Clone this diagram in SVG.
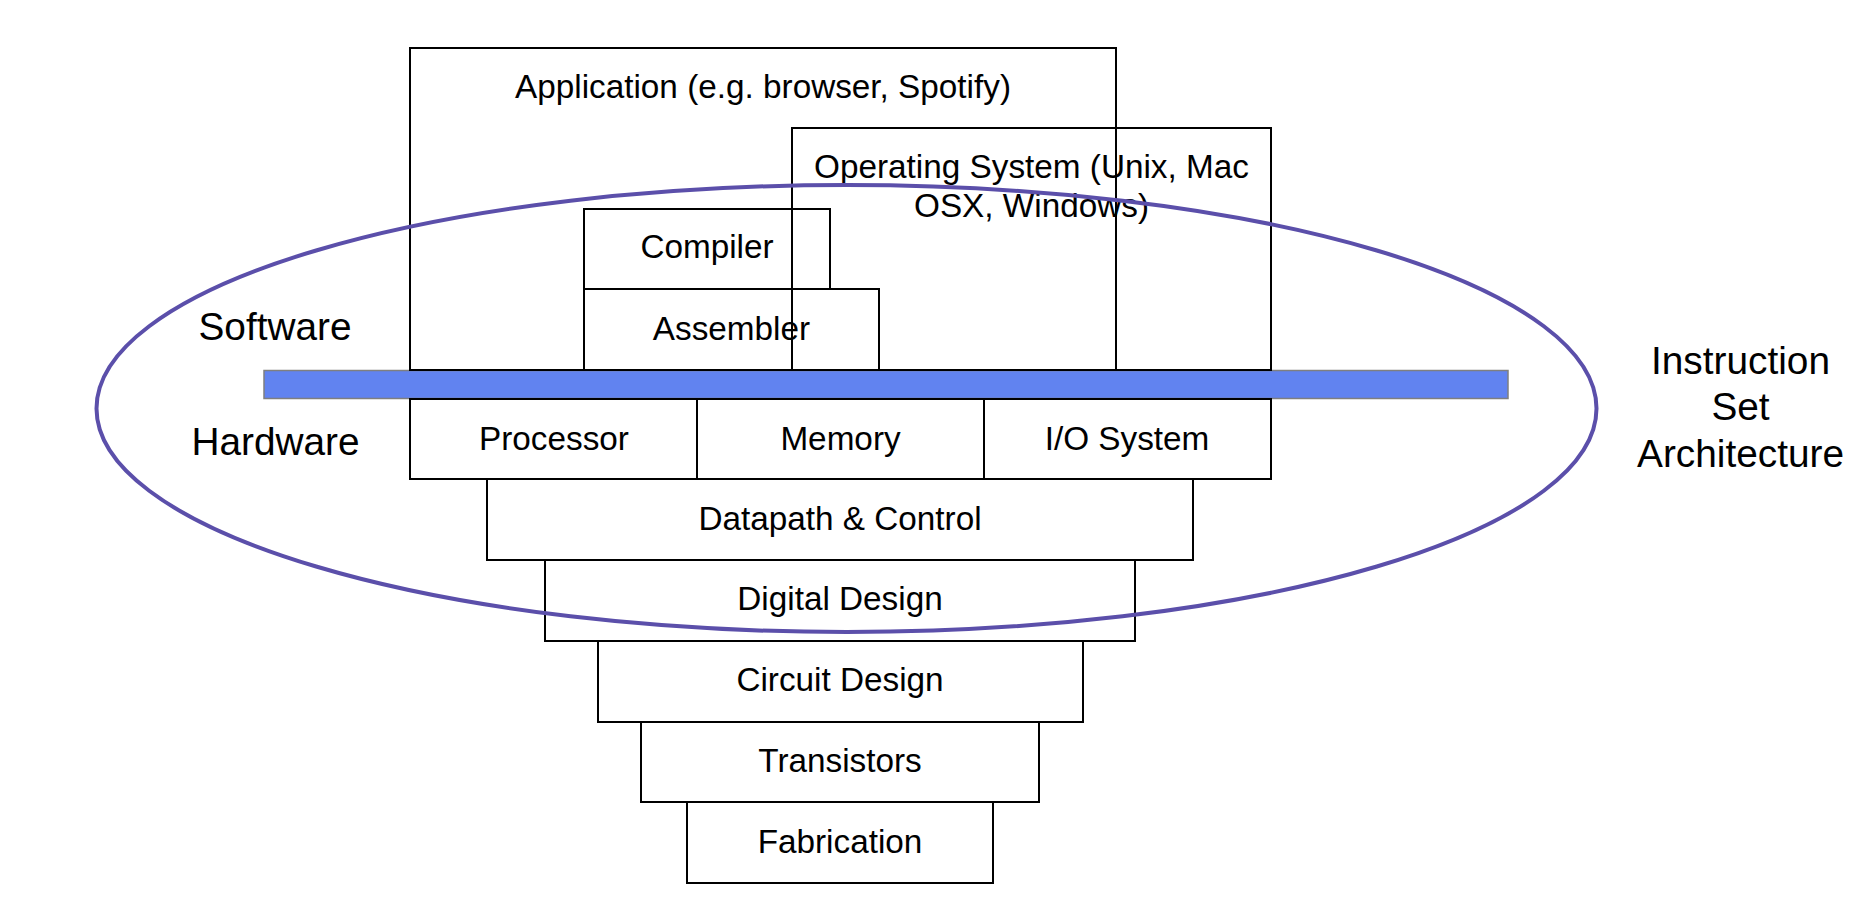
<svg xmlns="http://www.w3.org/2000/svg" width="1867" height="897" viewBox="0 0 1867 897">
<style>
.box{fill:none;stroke:#000;stroke-width:2}
.t{font-family:"Liberation Sans",Arial,sans-serif;font-size:33.3px;fill:#000;text-anchor:middle}
.big{font-family:"Liberation Sans",Arial,sans-serif;font-size:38.8px;fill:#000;text-anchor:middle}
</style>
<rect width="1867" height="897" fill="#fff"/>
<g id="isa-bar"><rect x="264" y="370.5" width="1244" height="28" fill="#6183f0" stroke="#7f7f7f" stroke-width="1.5"/></g>
<g id="os"><rect class="box" x="792" y="128" width="479" height="242"/><text class="t" x="1031.5" y="178">Operating System (Unix, Mac</text><text class="t" x="1031.5" y="217">OSX, Windows)</text></g>
<g id="application"><rect class="box" x="410" y="48" width="706" height="322"/><text class="t" x="763" y="98">Application (e.g. browser, Spotify)</text></g>
<g id="compiler"><rect class="box" x="584" y="209" width="246" height="80"/><text class="t" x="707" y="258">Compiler</text></g>
<g id="assembler"><rect class="box" x="584" y="289" width="295" height="81"/><text class="t" x="731.5" y="340">Assembler</text></g>
<g id="processor"><rect class="box" x="410" y="399" width="287" height="80"/><text class="t" x="554" y="450">Processor</text></g>
<g id="memory"><rect class="box" x="697" y="399" width="287" height="80"/><text class="t" x="840.5" y="450">Memory</text></g>
<g id="io"><rect class="box" x="984" y="399" width="287" height="80"/><text class="t" x="1127" y="450">I/O System</text></g>
<g id="datapath"><rect class="box" x="487" y="479" width="706" height="81"/><text class="t" x="840" y="530">Datapath &amp; Control</text></g>
<g id="digital"><rect class="box" x="545" y="560" width="590" height="81"/><text class="t" x="840" y="610">Digital Design</text></g>
<g id="circuit"><rect class="box" x="598" y="641" width="485" height="81"/><text class="t" x="840" y="691">Circuit Design</text></g>
<g id="transistors"><rect class="box" x="641" y="722" width="398" height="80"/><text class="t" x="840" y="772">Transistors</text></g>
<g id="fabrication"><rect class="box" x="687" y="802" width="306" height="81"/><text class="t" x="840" y="853">Fabrication</text></g>
<g id="labels">
<text class="big" x="275" y="340">Software</text>
<text class="big" x="275.5" y="455">Hardware</text>
<text class="big" x="1740.5" y="374">Instruction</text>
<text class="big" x="1740.5" y="420">Set</text>
<text class="big" x="1740.5" y="467">Architecture</text>
</g>
<g id="connectors"><ellipse cx="846.5" cy="408.5" rx="750" ry="223.5" fill="none" stroke="#5b4faa" stroke-width="4"/></g>
</svg>
